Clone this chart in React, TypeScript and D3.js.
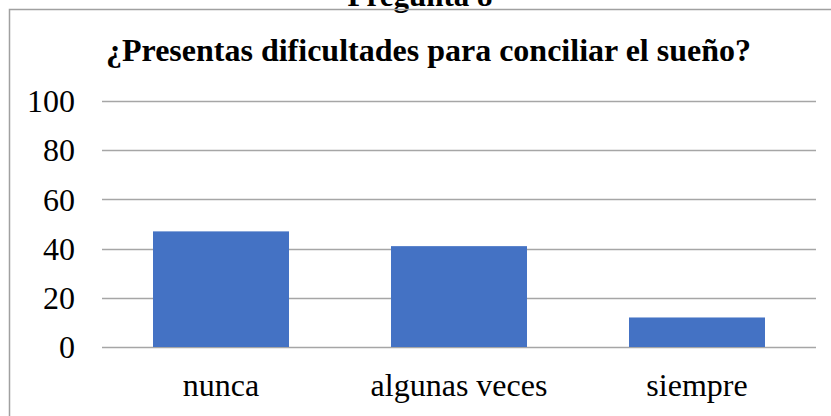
import React from "react";
import * as d3 from "d3";

const categories = ["nunca", "algunas veces", "siempre"];
const values = [47, 41, 12];
const yTicks = [0, 20, 40, 60, 80, 100];
const chartTitle = "¿Presentas dificultades para conciliar el sueño?";
const topTitle = "Pregunta 8";

export default function App() {
  const W = 831, H = 416;
  const plotLeft = 102, plotRight = 816, plotTop = 101, plotBottom = 347;
  const x = d3
    .scaleBand<string>()
    .domain(categories)
    .range([plotLeft, plotRight])
    .paddingInner(0.75 / 1.75)
    .paddingOuter(0.75 / 3.5);
  const y = d3.scaleLinear().domain([0, 100]).range([plotBottom, plotTop]);
  const font = "'Liberation Serif', 'Times New Roman', serif";
  return (
    <svg
      width={W}
      height={H}
      style={{ position: "absolute", left: 0, top: 0, background: "#fff" }}
      fontFamily={font}
    >
      <rect x={0} y={0} width={W} height={H} fill="#fff" />
      <text x={420} y={6} textAnchor="middle" fontSize={31} fontWeight="bold" fill="#000">
        {topTitle}
      </text>
      <path d={`M9.5,${H} V9.5 H${W}`} fill="none" stroke="#a0a0a0" strokeWidth={1.5} />
      <text x={428.5} y={61} textAnchor="middle" fontSize={32} fontWeight="bold" fill="#000">
        {chartTitle}
      </text>
      {yTicks.map((t) => (
        <g key={t}>
          <line
            x1={plotLeft}
            x2={plotRight}
            y1={Math.round(y(t)) + 0.5}
            y2={Math.round(y(t)) + 0.5}
            stroke="#a6a6a6"
            strokeWidth={1.3}
          />
          <text x={75} y={y(t)} dy="0.35em" textAnchor="end" fontSize={32} fill="#000">
            {t}
          </text>
        </g>
      ))}
      {categories.map((c, i) => (
        <rect
          key={c}
          x={x(c)}
          y={y(values[i])}
          width={x.bandwidth()}
          height={y(0) - y(values[i])}
          fill="#4472c4"
        />
      ))}
      {categories.map((c) => (
        <text
          key={c}
          x={(x(c) ?? 0) + x.bandwidth() / 2}
          y={396}
          textAnchor="middle"
          fontSize={32}
          fill="#000"
        >
          {c}
        </text>
      ))}
    </svg>
  );
}
